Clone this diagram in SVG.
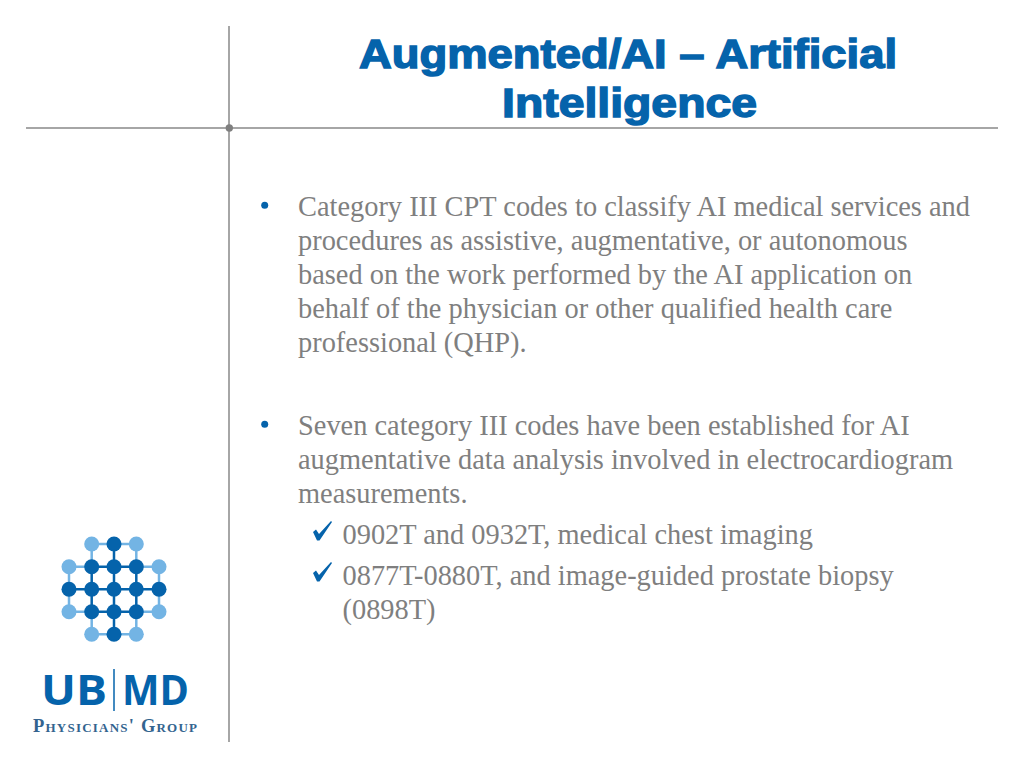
<svg xmlns="http://www.w3.org/2000/svg" width="1024" height="768" viewBox="0 0 1024 768">
<style>
.title{font:bold 40px "Liberation Sans",Arial,sans-serif;fill:#0563ab;stroke:#0563ab;stroke-width:1.4}
.b{font:28.4px "Liberation Serif","Times New Roman",serif;fill:#7f7f7f}
.rule{stroke:#a6a6a6;stroke-width:2;fill:none}
.d{fill:#0563ab}.l{fill:#73b4e4}
.le{stroke:#0563ab;stroke-width:2.5;fill:none}.ll{stroke:#73b4e4;stroke-width:2.5;fill:none}
.logo{font-family:"Open Sans",sans-serif;font-weight:700;font-size:42px;fill:#0563ab}
</style>
<rect width="1024" height="768" fill="#fff"/>
<g id="frame">
<line class="rule" x1="229" y1="26" x2="229" y2="742"/>
<line class="rule" x1="26" y1="128" x2="998" y2="128"/>
<circle cx="229.300" cy="128" r="3.700" fill="#7f7f7f"/>
</g>
<g id="title">
<text class="title" x="359" y="68.300" textLength="538" lengthAdjust="spacingAndGlyphs">Augmented/AI – Artificial</text>
<text class="title" x="502" y="116.700" textLength="255" lengthAdjust="spacingAndGlyphs">Intelligence</text>
</g>
<g id="body">
<circle class="d" cx="264.700" cy="205.300" r="3.500"/>
<text class="b" x="298" y="216">Category III CPT codes to classify AI medical services and</text>
<text class="b" x="298" y="250">procedures as assistive, augmentative, or autonomous</text>
<text class="b" x="298" y="284">based on the work performed by the AI application on</text>
<text class="b" x="298" y="318">behalf of the physician or other qualified health care</text>
<text class="b" x="298" y="352">professional (QHP).</text>
<circle class="d" cx="264.700" cy="424.300" r="3.500"/>
<text class="b" x="298" y="435">Seven category III codes have been established for AI</text>
<text class="b" x="298" y="469">augmentative data analysis involved in electrocardiogram</text>
<text class="b" x="298" y="503">measurements.</text>
<path class="d" d="M313 532L316 529.500L319 534L331 521L332 522L319.500 540.500L317 540.500Z"/>
<text class="b" x="342.500" y="544">0902T and 0932T, medical chest imaging</text>
<path class="d" d="M313 573L316 570.500L319 575L331 562L332 563L319.500 581.500L317 581.500Z"/>
<text class="b" x="342.500" y="585">0877T-0880T, and image-guided prostate biopsy</text>
<text class="b" x="342.500" y="619">(0898T)</text>
</g>
<g id="logo">
<path class="ll" d="M91.700 544H136.300M69 566.700H91.700M136.300 566.700H159M69 611.700H91.700M136.300 611.700H159M91.700 634.300H136.300M91.700 544V566.700M136.300 544V566.700M69 566.700V611.700M159 566.700V611.700M91.700 611.700V634.300M136.300 611.700V634.300"/>
<path class="le" d="M91.700 566.700H136.300M69 589.300H159M91.700 611.700H136.300M91.700 566.700V611.700M114 544V634.300M136.300 566.700V611.700"/>
<g class="l"><circle cx="91.700" cy="544" r="7.500"/><circle cx="136.300" cy="544" r="7.500"/><circle cx="69" cy="566.700" r="7.500"/><circle cx="159" cy="566.700" r="7.500"/><circle cx="69" cy="611.700" r="7.500"/><circle cx="159" cy="611.700" r="7.500"/><circle cx="91.700" cy="634.300" r="7.500"/><circle cx="136.300" cy="634.300" r="7.500"/></g>
<g class="d"><circle cx="114" cy="544" r="7.500"/><circle cx="91.700" cy="566.700" r="7.500"/><circle cx="114" cy="566.700" r="7.500"/><circle cx="136.300" cy="566.700" r="7.500"/><circle cx="69" cy="589.300" r="7.500"/><circle cx="91.700" cy="589.300" r="7.500"/><circle cx="114" cy="589.300" r="7.500"/><circle cx="136.300" cy="589.300" r="7.500"/><circle cx="159" cy="589.300" r="7.500"/><circle cx="91.700" cy="611.700" r="7.500"/><circle cx="114" cy="611.700" r="7.500"/><circle cx="136.300" cy="611.700" r="7.500"/><circle cx="114" cy="634.300" r="7.500"/></g>
<text class="logo" x="41" y="705" textLength="66" lengthAdjust="spacingAndGlyphs">UB</text>
<line x1="114" y1="669" x2="114" y2="711" stroke="#0563ab" stroke-width="1.500"/>
<text class="logo" x="122" y="705" textLength="67" lengthAdjust="spacingAndGlyphs">MD</text>
<text x="33" y="732" font-family="'Liberation Serif',serif" font-size="18.500" font-weight="700" fill="#33648f" style="font-variant:small-caps" textLength="164">Physicians' Group</text>
</g>
</svg>
